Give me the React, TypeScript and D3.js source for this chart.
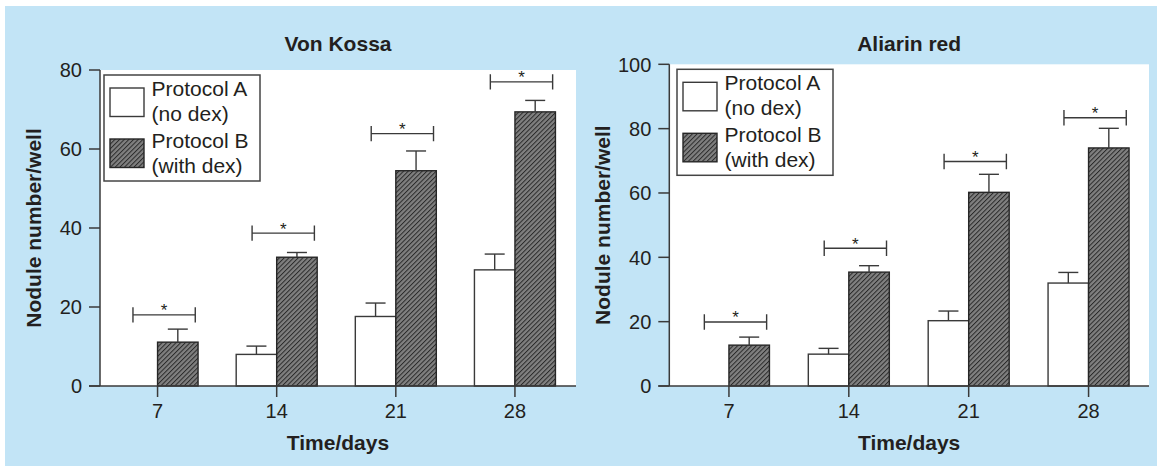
import React, { useEffect, useRef } from 'react';
import * as d3 from 'd3';

const days = ['7', '14', '21', '28'];

// Von Kossa (mean and upper error, nodules/well)
const vonKossaA: (number | null)[] = [null, 8.0, 17.6, 29.4];
const vonKossaAErr: (number | null)[] = [null, 2.1, 3.4, 4.0];
const vonKossaB = [11.1, 32.6, 54.5, 69.4];
const vonKossaBErr = [3.3, 1.2, 5.0, 2.9];
const vonKossaSig = [18.0, 38.7, 63.9, 77.0];
const vonKossaTicks = [0, 20, 40, 60, 80];

// Aliarin red
const aliarinA: (number | null)[] = [null, 9.9, 20.3, 32.0];
const aliarinAErr: (number | null)[] = [null, 1.8, 3.0, 3.3];
const aliarinB = [12.7, 35.4, 60.2, 74.0];
const aliarinBErr = [2.5, 2.0, 5.6, 6.1];
const aliarinSig = [19.9, 42.8, 69.8, 83.4];
const aliarinTicks = [0, 20, 40, 60, 80, 100];

const legendLabels = [
  ['Protocol A', '(no dex)'],
  ['Protocol B', '(with dex)'],
];

const WIDTH = 1157;
const HEIGHT = 469;
const BG = '#c2e4f6';
const INK = '#231f20';
const LINE = '#3a3a3a';
const FONT = '"Liberation Sans", Arial, Helvetica, sans-serif';

const App: React.FC = () => {
  const svgRef = useRef<SVGSVGElement>(null);

  useEffect(() => {
    if (!svgRef.current) return;
    const svg = d3.select(svgRef.current);
    svg.selectAll('*').remove();

    // hatch pattern for protocol B
    const defs = svg.append('defs');
    const pat = defs
      .append('pattern')
      .attr('id', 'hatch')
      .attr('patternUnits', 'userSpaceOnUse')
      .attr('width', 3.3)
      .attr('height', 3.3)
      .attr('patternTransform', 'rotate(45)');
    pat.append('rect').attr('width', 3.3).attr('height', 3.3).attr('fill', '#808080');
    pat.append('line')
      .attr('x1', 0.5).attr('y1', 0).attr('x2', 0.5).attr('y2', 3.3)
      .attr('stroke', '#2a2a2a').attr('stroke-width', 1);

    // background
    svg.append('rect').attr('width', WIDTH).attr('height', HEIGHT).attr('fill', '#fff');
    svg.append('rect')
      .attr('x', 5).attr('y', 6)
      .attr('width', WIDTH - 5).attr('height', HEIGHT - 9)
      .attr('fill', BG);

    const panels = [
      {
        title: 'Von Kossa', a: vonKossaA, aErr: vonKossaAErr, b: vonKossaB, bErr: vonKossaBErr,
        sig: vonKossaSig, ticks: vonKossaTicks,
        x0: 100, x1: 576, bandRange: [98, 574.5], yTop: 70, legendX: 104,
      },
      {
        title: 'Aliarin red', a: aliarinA, aErr: aliarinAErr, b: aliarinB, bErr: aliarinBErr,
        sig: aliarinSig, ticks: aliarinTicks,
        x0: 669.3, x1: 1149, bandRange: [669, 1148.5], yTop: 64.3, legendX: 677,
      },
    ];

    const yBottom = 386;
    const barW = 40.5;

    panels.forEach(p => {
      const g = svg.append('g');
      const yMax = p.ticks[p.ticks.length - 1];
      const y = d3.scaleLinear().domain([0, yMax]).range([yBottom, p.yTop]);
      const x = d3.scaleBand().domain(days).range(p.bandRange as [number, number]);
      const cx = (d: string) => (x(d) as number) + x.bandwidth() / 2;

      // plot area
      g.append('rect')
        .attr('x', p.x0).attr('y', p.yTop)
        .attr('width', p.x1 - p.x0).attr('height', yBottom - p.yTop)
        .attr('fill', '#fff');

      // bars A
      days.forEach((d, i) => {
        const v = p.a[i];
        if (v == null) return;
        g.append('rect')
          .attr('x', cx(d) - barW).attr('y', y(v))
          .attr('width', barW).attr('height', yBottom - y(v))
          .attr('fill', '#fff').attr('stroke', LINE).attr('stroke-width', 1.4);
      });
      // bars B
      days.forEach((d, i) => {
        const v = p.b[i];
        g.append('rect')
          .attr('x', cx(d)).attr('y', y(v))
          .attr('width', barW).attr('height', yBottom - y(v))
          .attr('fill', 'url(#hatch)').attr('stroke', '#262626').attr('stroke-width', 1.4);
      });

      // error bars (upper only)
      const errBar = (xc: number, v: number, e: number) => {
        g.append('line')
          .attr('x1', xc).attr('x2', xc).attr('y1', y(v)).attr('y2', y(v + e))
          .attr('stroke', LINE).attr('stroke-width', 1.4);
        g.append('line')
          .attr('x1', xc - 10).attr('x2', xc + 10).attr('y1', y(v + e)).attr('y2', y(v + e))
          .attr('stroke', LINE).attr('stroke-width', 1.4);
      };
      days.forEach((d, i) => {
        const va = p.a[i];
        const ea = p.aErr[i];
        if (va != null && ea != null) errBar(cx(d) - barW / 2, va, ea);
        errBar(cx(d) + barW / 2, p.b[i], p.bErr[i]);
      });

      // significance brackets
      days.forEach((d, i) => {
        const by = y(p.sig[i]);
        const bx0 = cx(d) - 24.6;
        const bx1 = cx(d) + 37.7;
        g.append('path')
          .attr('d', `M${bx0},${by - 7.7}V${by + 7.7}M${bx0},${by}H${bx1}M${bx1},${by - 7.7}V${by + 7.7}`)
          .attr('fill', 'none').attr('stroke', LINE).attr('stroke-width', 1.4);
        g.append('text')
          .attr('x', (bx0 + bx1) / 2).attr('y', by + 1.5)
          .attr('text-anchor', 'middle')
          .style('font-family', FONT).style('font-size', '17px')
          .attr('fill', INK)
          .text('*');
      });

      // y axis
      g.append('line')
        .attr('x1', p.x0).attr('x2', p.x0).attr('y1', p.yTop).attr('y2', yBottom)
        .attr('stroke', LINE).attr('stroke-width', 1.5);
      p.ticks.forEach(t => {
        g.append('line')
          .attr('x1', p.x0 - 11).attr('x2', p.x0).attr('y1', y(t)).attr('y2', y(t))
          .attr('stroke', LINE).attr('stroke-width', 1.5);
        g.append('text')
          .attr('x', p.x0 - 18).attr('y', y(t)).attr('dy', '0.36em')
          .attr('text-anchor', 'end')
          .style('font-family', FONT).style('font-size', '20px')
          .attr('fill', INK)
          .text(t);
      });

      // x axis
      g.append('line')
        .attr('x1', p.x0 - 11).attr('x2', p.x1).attr('y1', yBottom).attr('y2', yBottom)
        .attr('stroke', LINE).attr('stroke-width', 1.5);
      days.forEach(d => {
        g.append('line')
          .attr('x1', cx(d)).attr('x2', cx(d)).attr('y1', yBottom).attr('y2', yBottom + 11)
          .attr('stroke', LINE).attr('stroke-width', 1.5);
        g.append('text')
          .attr('x', cx(d)).attr('y', 417.5)
          .attr('text-anchor', 'middle')
          .style('font-family', FONT).style('font-size', '20px')
          .attr('fill', INK)
          .text(d);
      });

      const midX = (p.x0 + p.x1) / 2;
      // title
      g.append('text')
        .attr('x', midX).attr('y', 50.5)
        .attr('text-anchor', 'middle')
        .style('font-family', FONT).style('font-size', '21px').style('font-weight', 'bold')
        .attr('fill', INK)
        .text(p.title);
      // x label
      g.append('text')
        .attr('x', midX).attr('y', 450)
        .attr('text-anchor', 'middle')
        .style('font-family', FONT).style('font-size', '21px').style('font-weight', 'bold')
        .attr('fill', INK)
        .text('Time/days');
      // y label
      g.append('text')
        .attr('transform', `translate(${p.x0 - 59.5},${(p.yTop + yBottom) / 2}) rotate(-90)`)
        .attr('text-anchor', 'middle')
        .style('font-family', FONT).style('font-size', '21px').style('font-weight', 'bold')
        .attr('fill', INK)
        .text('Nodule number/well');

      // legend
      const lg = g.append('g').attr('transform', `translate(${p.legendX},${p.yTop + 5})`);
      lg.append('rect')
        .attr('width', 156).attr('height', 106)
        .attr('fill', '#fff').attr('stroke', '#444').attr('stroke-width', 1.5);
      legendLabels.forEach((lines, i) => {
        lg.append('rect')
          .attr('x', 6).attr('y', 13 + i * 51)
          .attr('width', 34).attr('height', 28.5)
          .attr('fill', i === 0 ? '#fff' : 'url(#hatch)')
          .attr('stroke', i === 0 ? LINE : '#262626').attr('stroke-width', 1.4);
        lines.forEach((t, j) => {
          lg.append('text')
            .attr('x', 47.6).attr('y', 21 + i * 52 + j * 25)
            .style('font-family', FONT).style('font-size', '21px')
            .attr('fill', INK)
            .text(t);
        });
      });
    });
  }, []);

  return (
    <svg
      ref={svgRef}
      width={WIDTH}
      height={HEIGHT}
      style={{ position: 'absolute', left: 0, top: 0, display: 'block' }}
    />
  );
};

export default App;
